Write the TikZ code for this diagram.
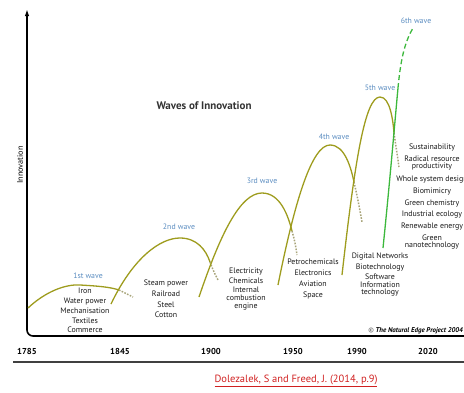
\documentclass[tikz,border=0pt]{standalone}
\usepackage{fontspec}
\setmainfont{PT Sans}
\usetikzlibrary{arrows.meta}
\definecolor{olive}{HTML}{9E9C1E}
\definecolor{olivedash}{HTML}{A8A47A}
\definecolor{wgreen}{HTML}{3CB83C}
\definecolor{wblue}{HTML}{5A8CC0}
\definecolor{cite}{HTML}{D02020}
\tikzset{
  wave/.style={draw=olive, line width=1.3pt},
  wavedash/.style={draw=olivedash, line width=1.5pt, dash pattern=on 1.6pt off 1.4pt},
  gwave/.style={draw=wgreen, line width=1.3pt},
  wlabel/.style={text=wblue, font=\fontsize{7.8}{9}\selectfont, inner sep=0},
  lst/.style={font=\fontsize{7.9}{#1}\selectfont, align=center, anchor=north, inner sep=0, text=black!90},
  lst/.default=9.8,
  year/.style={font=\fontsize{8.6}{10}\selectfont\bfseries, inner sep=0},
}
\begin{document}
\begin{tikzpicture}[x=1pt,y=-1pt]
\useasboundingbox (0,0) rectangle (464,392);
% axes
\coordinate (axR) at (470,336);
\coordinate (axC) at (27,336);
\coordinate (axT) at (27,9);
\draw[line width=1.6pt, rounded corners=6pt, -{Latex[length=7pt,width=4.5pt]}] (axR) -- (axC) -- (axT);
\coordinate (bl) at (13,362);
\coordinate (br) at (470,362);
\draw[line width=1.4pt, black!75] (bl) -- (br);
\node[rotate=90, font=\fontsize{8.2}{10}\selectfont, inner sep=0] (ylab) at (20,165) {Innovation};
\node[font=\fontsize{11}{13}\selectfont\bfseries, text=black!80, inner sep=0] (title) at (204,106) {Waves of Innovation};
% years
\node[year] (y1) at (27,351) {1785};
\node[year] (y2) at (120,351) {1845};
\node[year] (y3) at (211,351) {1900};
\node[year] (y4) at (293,351) {1950};
\node[year] (y5) at (357,351) {1990};
\node[year] (y6) at (428,351) {2020};
\node[font=\fontsize{6.9}{8}\selectfont\bfseries\itshape, anchor=east, inner sep=0] (nep) at (463,331) {\textcolor{black!50}{©} The Natural Edge Project 2004};
\node[font=\fontsize{10.5}{12}\selectfont, text=cite, inner sep=0] (cit) at (296,381) {\underline{Dolezalek, S and Freed, J. (2014, p.9)}};
% waves
\coordinate (w1s) at (28,308);
\coordinate (w1p) at (80,285);
\coordinate (w1x) at (119,290);
\coordinate (w1e) at (133,297);
\draw[wave] (w1s) .. controls (45,292) and (65,284) .. (w1p) .. controls (98,286) and (110,287) .. (w1x);
\draw[wavedash] (w1x) -- (w1e);

\coordinate (w2s) at (111,304);
\coordinate (w2p) at (180,238);
\coordinate (w2x) at (210,262);
\coordinate (w2e) at (218,280);
\draw[wave] (w2s) .. controls (133,258) and (160,238) .. (w2p) .. controls (197,238) and (206,250) .. (w2x);
\draw[wavedash] (w2x) .. controls (213,270) .. (w2e);

\coordinate (w3s) at (199,297);
\coordinate (w3p) at (262,193);
\coordinate (w3x) at (292,231);
\coordinate (w3e) at (297,255);
\draw[wave] (w3s) .. controls (220,235) and (240,193) .. (w3p) .. controls (280,193) and (288,215) .. (w3x);
\draw[wavedash] (w3x) .. controls (295,242) .. (w3e);

\coordinate (w4s) at (278,285);
\coordinate (w4p) at (330,145);
\coordinate (w4x) at (354,182);
\coordinate (w4e) at (362,222);
\draw[wave] (w4s) .. controls (295,200) and (312,145) .. (w4p) .. controls (345,145) and (351,168) .. (w4x);
\draw[wavedash] (w4x) .. controls (358,200) .. (w4e);

\coordinate (w5s) at (342,275);
\coordinate (w5p) at (380,97);
\coordinate (w5x) at (394,133);
\coordinate (w5e) at (399,167);
\draw[wave] (w5s) .. controls (355,160) and (365,97) .. (w5p) .. controls (390,97) and (393,120) .. (w5x);
\draw[wavedash] (w5x) .. controls (397,150) .. (w5e);

\coordinate (w6s) at (383,248);
\coordinate (w6m) at (398,88);
\coordinate (w6e) at (413,28);
\draw[gwave] (w6s) .. controls (390,180) and (395,120) .. (w6m);
\draw[gwave, dash pattern=on 5pt off 3pt] (w6m) .. controls (401,55) and (406,40) .. (w6e);
% wave labels
\node[wlabel] (l1) at (88,276) {1st wave};
\node[wlabel] (l2) at (179,227) {2nd wave};
\node[wlabel] (l3) at (262,181) {3rd wave};
\node[wlabel] (l4) at (334,137) {4th wave};
\node[wlabel] (l5) at (380,88) {5th wave};
\node[wlabel] (l6) at (416,21) {6th wave};
% lists
\node[lst] (t1) at (85,288) {Iron\\Water power\\Mechanisation\\Textiles\\Commerce};
\node[lst=10.6] (t2) at (166,280) {Steam power\\Railroad\\Steel\\Cotton};
\node[lst=7.8] (t3) at (246,268) {Electricity\\[1.6pt]Chemicals\\[1.6pt]Internal\\combustion\\engine};
\node[lst=11] (t4) at (313,259) {Petrochemicals\\Electronics\\Aviation\\Space};
\node[lst=7.6] (t5) at (380,253) {Digital Networks\\[2.6pt]Biotechnology\\[3pt]Software\\Information\\technology};
\node[lst=7] (t6) at (432,144) {Sustainability\\[3.8pt]Radical resource\\productivity\\[4.5pt]Whole system design\\[3.5pt]Biomimicry\\[3.5pt]Green chemistry\\[3.5pt]Industrial ecology\\[3.5pt]Renewable energy\\[3.5pt]Green\\nanotechnology};
\end{tikzpicture}
\end{document}
